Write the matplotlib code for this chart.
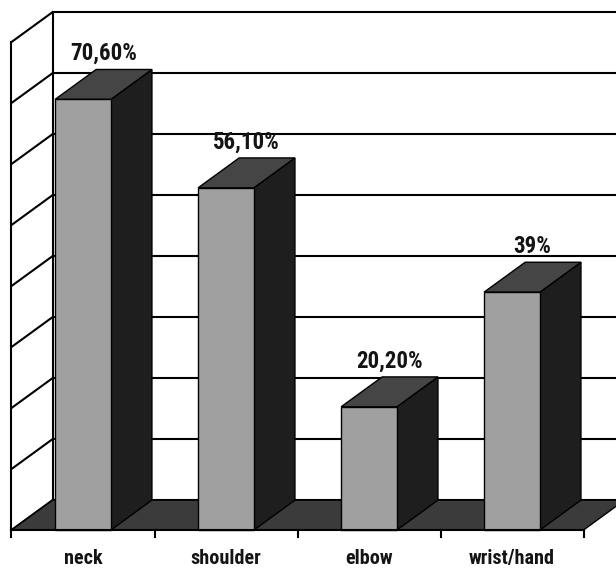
import numpy as np
import matplotlib.pyplot as plt
from matplotlib.patches import Polygon

# data
categories = ['neck', 'shoulder', 'elbow', 'wrist/hand']
values = [70.6, 56.1, 20.2, 39.0]
labels = ['70,60%', '56,10%', '20,20%', '39%']
grid_levels = np.arange(0, 90, 10)

# pseudo-3D geometry (in data units)
bar_w = 0.39
dx, dy = 0.287, 4.9          # depth offset of the back plane
x_left, x_right = -0.5, 3.5

fig = plt.figure(figsize=(6.16, 5.69), dpi=100, facecolor='white')
ax = fig.add_axes([0, 0, 1, 1])
ax.set_xlim(-0.5804, 3.727)
ax.set_ylim(-6.39, 86.89)
ax.axis('off')

fnt = ['Roboto Condensed', 'Archivo Narrow', 'PT Sans Narrow', 'Barlow Condensed', 'DejaVu Sans']
lw = 1.5

# back wall grid lines
for g in grid_levels:
    ax.plot([x_left + dx, 4.0], [g + dy, g + dy], color='black', lw=lw, zorder=1)
    ax.plot([x_left, x_left + dx], [g, g + dy], color='black', lw=lw, zorder=1)
ax.plot([x_left + dx, x_left + dx], [dy, 80 + dy], color='black', lw=lw, zorder=1)
ax.plot([x_left, x_left], [0, 80], color='black', lw=lw, zorder=1)

# floor
floor = Polygon([(x_left, 0), (x_right, 0), (x_right + dx, dy), (x_left + dx, dy)],
                closed=True, facecolor='#3b3b3b', edgecolor='black', lw=1, zorder=2)
ax.add_patch(floor)

# bars
for i, v in enumerate(values):
    x0, x1 = i - bar_w / 2, i + bar_w / 2
    front = Polygon([(x0, 0), (x1, 0), (x1, v), (x0, v)],
                    facecolor='#a0a0a0', edgecolor='black', lw=1, zorder=4)
    top = Polygon([(x0, v), (x1, v), (x1 + dx, v + dy), (x0 + dx, v + dy)],
                  facecolor='#454545', edgecolor='black', lw=1, zorder=4)
    side = Polygon([(x1, 0), (x1 + dx, dy), (x1 + dx, v + dy), (x1, v)],
                   facecolor='#1e1e1e', edgecolor='black', lw=1, zorder=4)
    for p in (side, top, front):
        ax.add_patch(p)
    ax.text(i + dx / 2, v + dy + 2.6, labels[i], ha='center', va='center',
            fontsize=16.5, fontweight='bold', family=fnt,
            color='#141414', zorder=5)

# front axis with ticks
ax.plot([x_left, x_right], [0, 0], color='black', lw=lw, zorder=5)
for t in np.arange(x_left, x_right + 0.01, 1.0):
    ax.plot([t, t], [0, -1.2], color='black', lw=lw, zorder=5)

for i, c in enumerate(categories):
    ax.text(i, -4.7, c, ha='center', va='center', fontsize=14.5,
            fontweight='bold', family=fnt, color='#141414')

fig.savefig('out.png', dpi=100, facecolor='white')
